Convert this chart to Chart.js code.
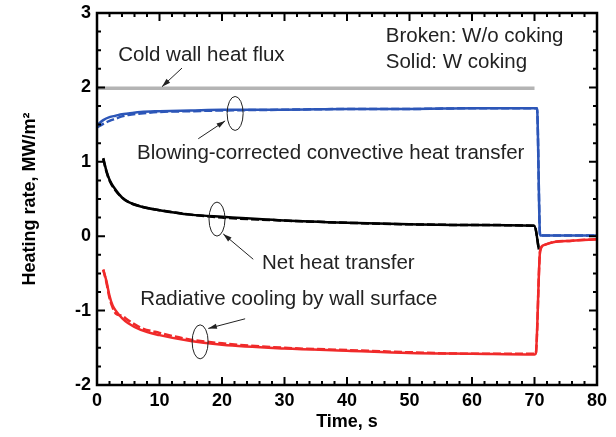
<!DOCTYPE html>
<html lang="en">
<head>
  <meta charset="UTF-8">
  <title>Heating rate</title>
  <style>
    html, body { margin: 0; padding: 0; background: #fff; }
    #wrap { width: 616px; height: 437px; position: relative; }
  </style>
</head>
<body>
  <div id="wrap"><canvas id="grafico"></canvas></div>

  <script src="https://cdn.jsdelivr.net/npm/chart.js"></script>
  <script>
    // time axis (s) and heating rates (MW/m2)
    const tCold = [0, 70];
    const coldFlux = [1.99, 1.99];

    const tConv = [0, 1, 2, 3, 4, 5, 7, 10, 15, 20, 30, 40, 50, 60, 70, 70.4, 70.9, 80];
    const convW = [1.49, 1.56, 1.60, 1.62, 1.64, 1.65, 1.67, 1.68, 1.69, 1.70, 1.70, 1.71, 1.71, 1.72, 1.72, 1.72, 0.01, 0.01];
    const convWo = [1.46, 1.51, 1.55, 1.58, 1.61, 1.63, 1.65, 1.67, 1.68, 1.69, 1.70, 1.71, 1.71, 1.72, 1.72, 1.72, 0.01, 0.01];

    const tNet = [1, 1.5, 2, 3, 4, 5, 7, 10, 15, 20, 30, 40, 50, 60, 70, 70.7];
    const netW = [1.05, 0.88, 0.76, 0.62, 0.52, 0.46, 0.40, 0.35, 0.29, 0.26, 0.21, 0.18, 0.16, 0.15, 0.14, -0.18];
    const netWo = [1.04, 0.87, 0.75, 0.61, 0.52, 0.46, 0.40, 0.35, 0.29, 0.25, 0.21, 0.18, 0.16, 0.15, 0.14, -0.18];

    const tRad = [1, 1.5, 2, 2.5, 3, 4, 5, 7, 10, 15, 20, 30, 40, 50, 60, 70, 70.2, 70.9, 71.5, 73, 76, 80];
    const radW = [-0.45, -0.60, -0.80, -0.93, -1.00, -1.10, -1.17, -1.26, -1.33, -1.41, -1.46, -1.51, -1.54, -1.57, -1.58, -1.59, -1.58, -0.20, -0.12, -0.08, -0.06, -0.04];
    const radWo = [-0.45, -0.62, -0.83, -0.96, -1.04, -1.07, -1.13, -1.23, -1.30, -1.39, -1.44, -1.50, -1.53, -1.56, -1.58, -1.58, -1.58, -0.20, -0.12, -0.08, -0.06, -0.04];

    const xTicks = [0, 10, 20, 30, 40, 50, 60, 70, 80];
    const yTicks = [-2, -1, 0, 1, 2, 3];

    // text labels, ellipses and arrows, placed in data units
    const notes = [
      { text: "Cold wall heat flux", x: 3.4, y: 2.43 },
      { text: "Blowing-corrected convective heat transfer", x: 6.4, y: 1.12 },
      { text: "Net heat transfer", x: 26.4, y: -0.36 },
      { text: "Radiative cooling by wall surface", x: 6.9, y: -0.85 },
      { text: "Broken: W/o coking", x: 46.2, y: 2.68 },
      { text: "Solid: W coking", x: 46.2, y: 2.34 }
    ];
    const rings = [
      { x: 22.1, y: 1.65 },
      { x: 19.2, y: 0.23 },
      { x: 16.5, y: -1.42 }
    ];
    const arrows = [
      { x0: 13.6, y0: 2.26, x1: 10.4, y1: 2.01 },
      { x0: 16.2, y0: 1.31, x1: 20.5, y1: 1.55 },
      { x0: 25.0, y0: -0.31, x1: 20.2, y1: 0.03 },
      { x0: 23.7, y0: -1.11, x1: 17.8, y1: -1.24 }
    ];

    const pts = (xs, ys) => xs.map((x, i) => ({ x: x, y: ys[i] }));

    const BLUE = "#2c56b8";
    const RED = "#f02a2a";

    function serie(data, color, width, dash) {
      return {
        data: data,
        borderColor: color,
        borderWidth: width,
        borderDash: dash || [],
        pointRadius: 0,
        fill: false,
        cubicInterpolationMode: "monotone"
      };
    }

    const marcoPlugin = {
      id: "marco",
      afterDraw(chart) {
        const ctx = chart.ctx;
        const xs = chart.scales.x, ys = chart.scales.y;
        const a = chart.chartArea;
        ctx.save();
        ctx.strokeStyle = "#000";
        ctx.lineWidth = 2;
        // inner ticks on all four sides
        for (let v = 0; v <= 80; v += 2) {
          const px = xs.getPixelForValue(v);
          const len = v % 10 === 0 ? 8 : 4;
          ctx.beginPath();
          ctx.moveTo(px, a.bottom); ctx.lineTo(px, a.bottom - len);
          ctx.moveTo(px, a.top); ctx.lineTo(px, a.top + len);
          ctx.stroke();
        }
        for (let k = 0; k <= 20; k++) {
          const v = -2 + k * 0.25;
          const py = ys.getPixelForValue(v);
          const len = k % 4 === 0 ? 8 : 4;
          ctx.beginPath();
          ctx.moveTo(a.left, py); ctx.lineTo(a.left + len, py);
          ctx.moveTo(a.right, py); ctx.lineTo(a.right - len, py);
          ctx.stroke();
        }
        ctx.lineWidth = 2.5;
        ctx.strokeRect(a.left, a.top, a.right - a.left, a.bottom - a.top);

        // annotations
        ctx.fillStyle = "#222";
        ctx.font = "20.5px 'Liberation Sans', Arial, sans-serif";
        ctx.textAlign = "left";
        ctx.textBaseline = "middle";
        notes.forEach(n => {
          ctx.fillText(n.text, xs.getPixelForValue(n.x), ys.getPixelForValue(n.y));
        });
        ctx.lineWidth = 1;
        ctx.strokeStyle = "#222";
        rings.forEach(r => {
          ctx.beginPath();
          ctx.ellipse(xs.getPixelForValue(r.x), ys.getPixelForValue(r.y), 8, 17, 0, 0, Math.PI * 2);
          ctx.stroke();
        });
        arrows.forEach(w => {
          const x0 = xs.getPixelForValue(w.x0), y0 = ys.getPixelForValue(w.y0);
          const x1 = xs.getPixelForValue(w.x1), y1 = ys.getPixelForValue(w.y1);
          const ang = Math.atan2(y1 - y0, x1 - x0);
          ctx.beginPath();
          ctx.moveTo(x0, y0); ctx.lineTo(x1, y1);
          ctx.stroke();
          ctx.beginPath();
          ctx.moveTo(x1, y1);
          ctx.lineTo(x1 - 9 * Math.cos(ang - 0.3), y1 - 9 * Math.sin(ang - 0.3));
          ctx.lineTo(x1 - 9 * Math.cos(ang + 0.3), y1 - 9 * Math.sin(ang + 0.3));
          ctx.closePath();
          ctx.fill();
        });
        ctx.restore();
      }
    };

    const tickFont = { family: "'Liberation Sans', Arial, sans-serif", size: 18, weight: "bold" };

    new Chart(document.querySelector("#grafico"), {
      type: "line",
      data: {
        datasets: [
          serie(pts(tRad, radW), RED, 2.5),
          serie(pts(tRad, radWo), RED, 2.5, [8, 3]),
          serie(pts(tNet, netW), "#000", 2.5),
          serie(pts(tNet, netWo), "#000", 2.5, [8, 3]),
          serie(pts(tConv, convW), BLUE, 2.5),
          serie(pts(tConv, convWo), BLUE, 2.5, [8, 3]),
          serie(pts(tCold, coldFlux), "#b4b4b4", 3.5)
        ]
      },
      options: {
        responsive: true,
        maintainAspectRatio: false,
        animation: false,
        layout: { padding: { top: 13, right: 19, bottom: 0, left: 0 } },
        plugins: { legend: { display: false }, tooltip: { enabled: false } },
        scales: {
          x: {
            type: "linear",
            min: 0, max: 80,
            afterBuildTicks: s => { s.ticks = xTicks.map(v => ({ value: v })); },
            afterFit: s => { s.height = 52; s.paddingLeft = 0; s.paddingRight = 0; },
            grid: { display: false, drawTicks: false },
            border: { display: false },
            ticks: { color: "#000", font: tickFont, padding: 5, maxRotation: 0 },
            title: { display: true, text: "Time, s", color: "#000", font: tickFont, padding: { top: 0, bottom: 4 } }
          },
          y: {
            min: -2, max: 3,
            afterBuildTicks: s => { s.ticks = yTicks.map(v => ({ value: v })); },
            afterFit: s => { s.width = 97; s.paddingTop = 0; s.paddingBottom = 0; },
            grid: { display: false, drawTicks: false },
            border: { display: false },
            ticks: { color: "#000", font: tickFont, padding: 6 },
            title: { display: true, text: "Heating rate, MW/m²", color: "#000", font: tickFont, padding: { top: 19, bottom: 0 } }
          }
        }
      },
      plugins: [marcoPlugin]
    });
  </script>
</body>
</html>
